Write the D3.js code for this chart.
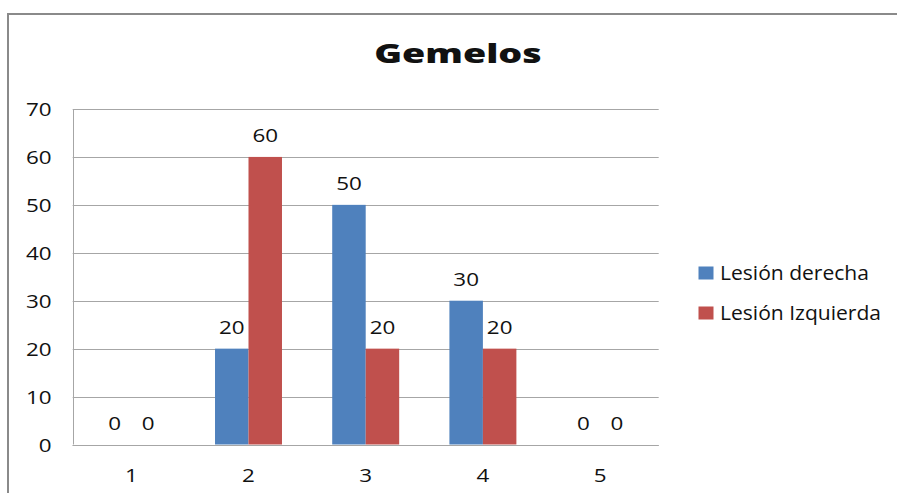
<!DOCTYPE html>
<html>
<head>
<meta charset="utf-8">
<script src="https://cdn.jsdelivr.net/npm/d3@7"></script>
<style>
  html, body { margin: 0; padding: 0; background: #fff; }
  svg { display: block; }
  text { font-family: "Open Sans", "DejaVu Sans", sans-serif; fill: #111; }
</style>
</head>
<body>
<svg id="chart" width="897" height="493"></svg>
<script>
// Chart data
const title = "Gemelos";
const categories = ["1", "2", "3", "4", "5"];
const seriesNames = ["Lesión derecha", "Lesión Izquierda"];
const lesionDerecha = [0, 20, 50, 30, 0];
const lesionIzquierda = [0, 60, 20, 20, 0];
const yTicks = [0, 10, 20, 30, 40, 50, 60, 70];
const seriesColors = ["#4F81BD", "#C0504D"];

const seriesValues = [lesionDerecha, lesionIzquierda];

const svg = d3.select("#chart");
const W = 897, H = 493;

// Plot area
const plot = { left: 72.7, right: 658.7, top: 109, bottom: 444.5 };

const x = d3.scaleBand().domain(categories).range([plot.left, plot.right]).padding(0);
const y = d3.scaleLinear().domain([0, 70]).range([plot.bottom, plot.top]);

// Two bars per category, gap between groups 1.5 bar widths
const barW = x.bandwidth() / 3.5;
const xs = d3.scaleBand().domain(seriesNames).range([0, 2 * barW]).padding(0);
const groupOffset = (x.bandwidth() - 2 * barW) / 2;

// Outer chart frame (runs past the right and bottom edges)
svg.append("rect")
  .attr("x", 8).attr("y", 14)
  .attr("width", W + 20).attr("height", H + 20)
  .attr("fill", "#fff")
  .attr("stroke", "#8a8a8a")
  .attr("stroke-width", 2);

// Helper: text with a horizontal stretch
function label(g, px, py, str, size, sx, anchor, weight) {
  return g.append("text")
    .attr("transform", `translate(${px},${py}) scale(${sx},1)`)
    .attr("text-anchor", anchor)
    .style("font-size", size + "px")
    .style("font-weight", weight || "normal")
    .text(str);
}

// Title
label(svg, 458, 62.5, title, 26.5, 1.42, "middle", "800");

// Gridlines
const grid = svg.append("g");
grid.selectAll("line").data(yTicks).join("line")
  .attr("x1", plot.left).attr("x2", plot.right)
  .attr("y1", d => Math.round(y(d)) + 0.5).attr("y2", d => Math.round(y(d)) + 0.5)
  .attr("stroke", "#a6a6a6").attr("stroke-width", 1);

// Value axis line
svg.append("line")
  .attr("x1", Math.round(plot.left) + 0.5).attr("x2", Math.round(plot.left) + 0.5)
  .attr("y1", plot.top).attr("y2", plot.bottom)
  .attr("stroke", "#a6a6a6").attr("stroke-width", 1);

// Y tick labels
const yLab = svg.append("g");
yTicks.forEach(t => label(yLab, 51.5, y(t) + 7, String(t), 19, 1.18, "end"));

// X tick labels
const xLab = svg.append("g");
categories.forEach(c => label(xLab, x(c) + x.bandwidth() / 2, 481.5, c, 19, 1.18, "middle"));

// Bars
const bars = svg.append("g");
seriesNames.forEach((s, si) => {
  const vals = seriesValues[si];
  bars.append("g").selectAll("rect").data(categories).join("rect")
    .attr("x", c => x(c) + groupOffset + xs(s))
    .attr("width", xs.bandwidth())
    .attr("y", (c, i) => y(vals[i]))
    .attr("height", (c, i) => y(0) - y(vals[i]))
    .attr("fill", seriesColors[si]);
});

// Bottom axis line on top of bars
svg.append("line")
  .attr("x1", plot.left).attr("x2", plot.right)
  .attr("y1", Math.round(y(0)) + 0.5).attr("y2", Math.round(y(0)) + 0.5)
  .attr("stroke", "#a6a6a6").attr("stroke-width", 1);

// Value labels
const vLab = svg.append("g");
seriesNames.forEach((s, si) => {
  const vals = seriesValues[si];
  categories.forEach((c, i) => {
    const cx = x(c) + groupOffset + xs(s) + xs.bandwidth() / 2;
    label(vLab, cx, y(vals[i]) - 15, String(vals[i]), 19, 1.18, "middle");
  });
});

// Legend
const legend = svg.append("g");
seriesNames.forEach((s, si) => {
  const ly = 266.5 + si * 40;
  legend.append("rect")
    .attr("x", 698.5).attr("y", ly)
    .attr("width", 15).attr("height", 13)
    .attr("fill", seriesColors[si]);
  label(legend, 720, ly + 13, s, 19.5, 1.08, "start");
});
</script>
</body>
</html>
